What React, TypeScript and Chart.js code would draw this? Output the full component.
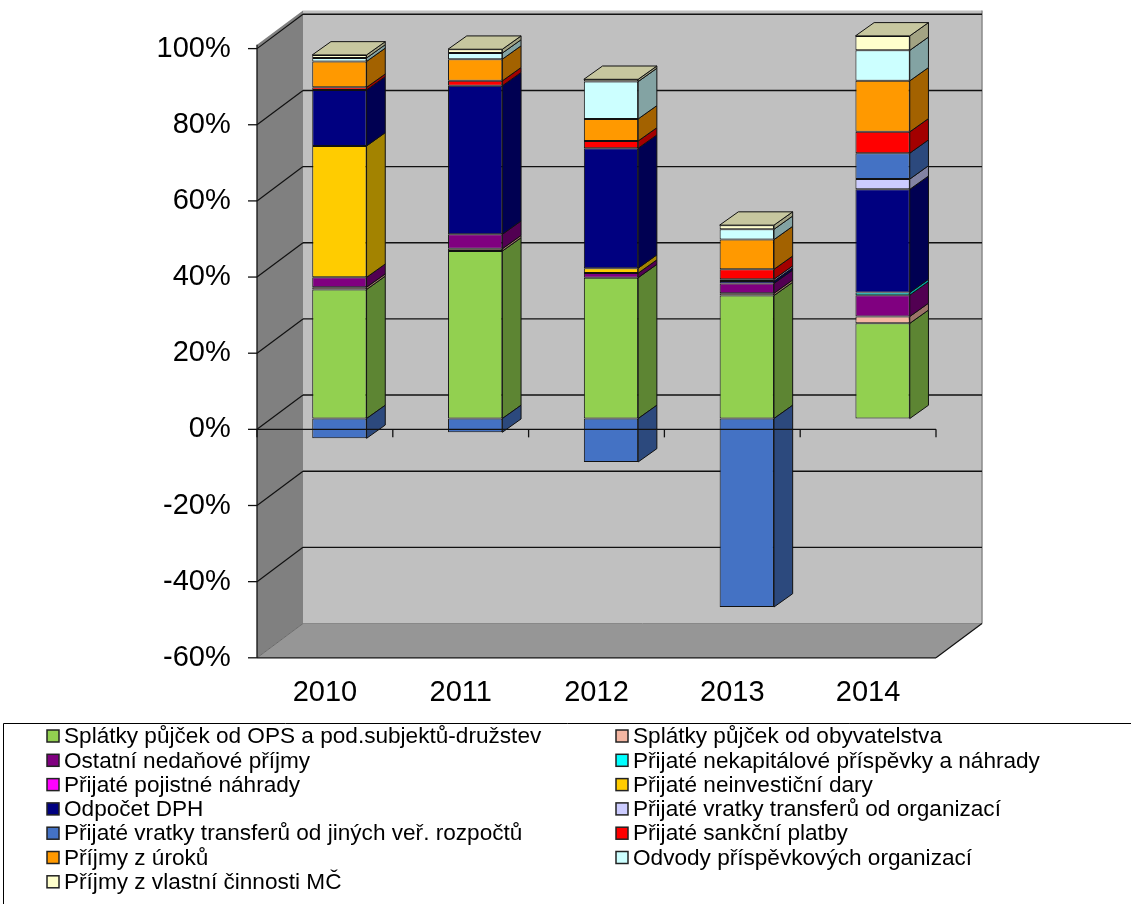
import React, { useEffect, useRef } from 'react';
import { Chart, registerables } from 'chart.js';

Chart.register(...registerables);

// ---------- DATA ----------
const years = ['2010', '2011', '2012', '2013', '2014'];

const seriesNames = [
  'Splátky půjček od OPS a pod.subjektů-družstev',
  'Splátky půjček od obyvatelstva',
  'Ostatní nedaňové příjmy',
  'Přijaté nekapitálové příspěvky a náhrady',
  'Přijaté pojistné náhrady',
  'Přijaté neinvestiční dary',
  'Odpočet DPH',
  'Přijaté vratky transferů od organizací',
  'Přijaté vratky transferů od jiných veř. rozpočtů',
  'Přijaté sankční platby',
  'Příjmy z úroků',
  'Odvody příspěvkových organizací',
  'Příjmy z vlastní činnosti MČ',
];

const seriesColors = [
  '#92D050', '#F4B6A2', '#800080', '#00FFFF', '#FF00FF', '#FFCC00', '#000080',
  '#CCCCFF', '#4472C4', '#FF0000', '#FF9900', '#CCFFFF', '#FFFFCC',
];

const splatkyOPS = [33.9, 44.0, 37.0, 32.3, 25.0];
const splatkyObyvatelstva = [0.6, 0.6, null, 0.6, 1.8];
const ostatniNedanove = [2.6, 3.8, 1.2, 2.6, 5.6];
const nekapitalove = [null, null, null, null, 0.7];
const pojistneNahrady = [null, null, null, null, null];
const neinvesticniDary = [34.5, null, 1.3, null, null];
const odpocetDPH = [14.7, 39.0, 31.5, 0.6, 27.1];
const vratkyOrganizaci = [null, null, null, 0.5, 2.7];
const vratkyRozpoctu = [-5.2, -3.6, -11.4, -49.5, 6.8];
const sankcniPlatby = [0.7, 1.3, 1.9, 2.6, 5.6];
const prijmyUroky = [6.8, 5.7, 5.8, 7.8, 13.4];
const odvodyPO = [0.9, 1.6, 9.8, 2.7, 8.0];
const vlastniCinnost = [0.8, 1.0, 0.6, 1.1, 3.8];

const seriesValues = [
  splatkyOPS, splatkyObyvatelstva, ostatniNedanove, nekapitalove, pojistneNahrady,
  neinvesticniDary, odpocetDPH, vratkyOrganizaci, vratkyRozpoctu, sankcniPlatby,
  prijmyUroky, odvodyPO, vlastniCinnost,
];

const yMin = -60;
const yMax = 101;
const yStep = 20;

// ---------- STYLE ----------
const FONT = 'Arial, "Liberation Sans", sans-serif';
const DEPTH = {
  front: { dx: -14.5, dy: 10.8 },
  back: { dx: 31.5, dy: -23.5 },
  bar: { dx: 18.7, dy: -13.3 },
};
const LEGEND = { colX: [47, 616], firstRowY: 736, rowH: 24.3, box: 12, top: 723.5, left: 3.5, font: 22.6 };

function shade(hex: string, f: number): string {
  const n = parseInt(hex.slice(1), 16);
  const r = Math.round(((n >> 16) & 255) * f);
  const g = Math.round(((n >> 8) & 255) * f);
  const b = Math.round((n & 255) * f);
  return `rgb(${r},${g},${b})`;
}

function poly(ctx: CanvasRenderingContext2D, pts: number[][], fill?: string, stroke?: string, lw = 1) {
  ctx.beginPath();
  ctx.moveTo(pts[0][0], pts[0][1]);
  for (let i = 1; i < pts.length; i++) ctx.lineTo(pts[i][0], pts[i][1]);
  ctx.closePath();
  if (fill) { ctx.fillStyle = fill; ctx.fill(); }
  if (stroke) { ctx.strokeStyle = stroke; ctx.lineWidth = lw; ctx.stroke(); }
}

function line(ctx: CanvasRenderingContext2D, x1: number, y1: number, x2: number, y2: number, color = '#000', lw = 1.3) {
  ctx.beginPath();
  ctx.moveTo(x1, y1);
  ctx.lineTo(x2, y2);
  ctx.strokeStyle = color;
  ctx.lineWidth = lw;
  ctx.stroke();
}

const wallsPlugin = {
  id: 'walls3d',
  beforeDatasetsDraw(chart: any) {
    const { ctx, chartArea: a } = chart;
    const y = chart.scales.y;
    const F = DEPTH.front, B = DEPTH.back;
    const fL = a.left + F.dx, fR = a.right + F.dx, fT = a.top + F.dy, fB = a.bottom + F.dy;
    const bL = a.left + B.dx, bR = a.right + B.dx, bT = a.top + B.dy, bB = a.bottom + B.dy;
    ctx.save();
    ctx.fillStyle = '#C0C0C0';
    ctx.fillRect(bL, bT, bR - bL, bB - bT);
    poly(ctx, [[fL, fT], [bL, bT], [bL, bB], [fL, fB]], '#808080');
    poly(ctx, [[fL, fB], [bL, bB], [bR, bB], [fR, fB]], '#969696');
    line(ctx, bR, bT, bR, bB, '#8a8a8a', 1.5);
    y.ticks.forEach((t: any) => {
      const py = y.getPixelForValue(t.value);
      if (t.value === yMin) {
        line(ctx, bL, py + B.dy, bR, py + B.dy, '#888', 1);
        line(ctx, fL, py + F.dy, bL, py + B.dy, '#6a6a6a', 1);
      } else {
        line(ctx, bL, py + B.dy, bR, py + B.dy, '#111', 1.4);
        line(ctx, fL, py + F.dy, bL, py + B.dy, '#111', 1.2);
      }
      line(ctx, fL - 9, py + F.dy, fL, py + F.dy, '#111', 1.3);
    });
    line(ctx, fL, fB, fR, fB, '#111', 1.3);
    line(ctx, fR, fB, bR, bB, '#111', 1.2);
    line(ctx, fL, fT, fL, fB, '#111', 1.3);
    ctx.restore();
  },
  afterDatasetsDraw(chart: any) {
    const { ctx, chartArea: a } = chart;
    const y = chart.scales.y;
    const D = DEPTH.bar, F = DEPTH.front;
    ctx.save();
    ctx.lineJoin = 'round';
    const n = chart.data.labels.length;
    for (let i = 0; i < n; i++) {
      let topEl: any = null;
      let topColor = '';
      chart.data.datasets.forEach((ds: any, d: number) => {
        const v = ds.data[i];
        if (v === null || v === undefined) return;
        const el = chart.getDatasetMeta(d).data[i];
        if (!el) return;
        const p = el.getProps(['x', 'y', 'base', 'width'], true);
        const top = Math.min(p.y, p.base);
        const bot = Math.max(p.y, p.base);
        const xr = p.x + p.width / 2;
        poly(ctx, [[xr, top], [xr + D.dx, top + D.dy], [xr + D.dx, bot + D.dy], [xr, bot]],
          shade(ds.backgroundColor, 0.64), '#111', 1);
        if (v > 0 && (!topEl || top < topEl.top)) {
          topEl = { top, xl: p.x - p.width / 2, xr };
          topColor = ds.backgroundColor;
        }
      });
      if (topEl) {
        const { top, xl, xr } = topEl;
        poly(ctx, [[xl, top], [xl + D.dx, top + D.dy], [xr + D.dx, top + D.dy], [xr, top]],
          shade(topColor, 0.78), '#111', 1);
      }
    }
    // front zero axis with category tick marks
    const y0 = y.getPixelForValue(0) + F.dy;
    const fL = a.left + F.dx, fR = a.right + F.dx;
    line(ctx, fL, y0, fR, y0, '#111', 1.3);
    const catW = (a.right - a.left) / n;
    for (let k = 0; k <= n; k++) {
      const xx = a.left + k * catW + F.dx;
      line(ctx, xx, y0, xx, y0 + 8, '#111', 1.3);
    }
    ctx.restore();
  },
};

const legendPlugin = {
  id: 'boxLegend',
  afterDraw(chart: any) {
    const ctx = chart.ctx;
    ctx.save();
    ctx.strokeStyle = '#000';
    ctx.lineWidth = 1;
    ctx.beginPath();
    ctx.moveTo(LEGEND.left, chart.height);
    ctx.lineTo(LEGEND.left, LEGEND.top);
    ctx.lineTo(chart.width, LEGEND.top);
    ctx.stroke();
    ctx.font = `${LEGEND.font}px ${FONT}`;
    ctx.textBaseline = 'middle';
    ctx.textAlign = 'left';
    chart.data.datasets.forEach((ds: any, i: number) => {
      const col = i % 2;
      const row = Math.floor(i / 2);
      const bx = LEGEND.colX[col];
      const cy = LEGEND.firstRowY + row * LEGEND.rowH;
      const s = LEGEND.box;
      ctx.fillStyle = ds.backgroundColor;
      ctx.fillRect(bx, cy - s / 2, s, s);
      ctx.strokeStyle = '#222';
      ctx.lineWidth = 1.5;
      ctx.strokeRect(bx, cy - s / 2, s, s);
      ctx.fillStyle = '#000';
      ctx.fillText(ds.label, bx + 17, cy + 1);
    });
    ctx.restore();
  },
};

export default function App() {
  const ref = useRef<HTMLCanvasElement | null>(null);
  useEffect(() => {
    document.body.style.margin = '0';
    if (!ref.current) return;
    const chart = new Chart(ref.current, {
      type: 'bar',
      data: {
        labels: years,
        datasets: seriesNames.map((name, i) => ({
          label: name,
          data: seriesValues[i],
          backgroundColor: seriesColors[i],
          borderColor: '#111',
          borderWidth: 1,
          borderSkipped: false,
          categoryPercentage: 0.4,
          barPercentage: 1,
        })),
      },
      options: {
        responsive: false,
        animation: false,
        devicePixelRatio: 1,
        layout: { padding: { left: 0, right: 180.5, top: 34, bottom: 0 } },
        plugins: { legend: { display: false }, tooltip: { enabled: false } },
        scales: {
          x: {
            stacked: true,
            grid: { display: false, drawTicks: false },
            border: { display: false },
            ticks: {
              color: '#000',
              font: { size: 29, family: FONT },
              padding: 29,
              labelOffset: DEPTH.front.dx,
              maxRotation: 0,
            },
            afterFit: (s: any) => {
              s.height = 257;
              s.paddingLeft = 0; s.paddingRight = 0; s.paddingTop = 0; s.paddingBottom = 0;
            },
          },
          y: {
            stacked: true,
            min: yMin,
            max: yMax,
            grid: { display: false, drawTicks: false },
            border: { display: false },
            ticks: {
              stepSize: yStep,
              includeBounds: false,
              color: '#000',
              font: { size: 29, family: FONT },
              padding: 40.8,
              labelOffset: DEPTH.front.dy,
              callback: (v: any) => `${v}%`,
            },
            afterFit: (s: any) => {
              s.width = 271.5;
              s.paddingLeft = 0; s.paddingRight = 0; s.paddingTop = 0; s.paddingBottom = 0;
            },
          },
        },
      },
      plugins: [wallsPlugin, legendPlugin],
    } as any);
    return () => chart.destroy();
  }, []);
  return <canvas ref={ref} width={1131} height={904} style={{ display: 'block' }} />;
}
